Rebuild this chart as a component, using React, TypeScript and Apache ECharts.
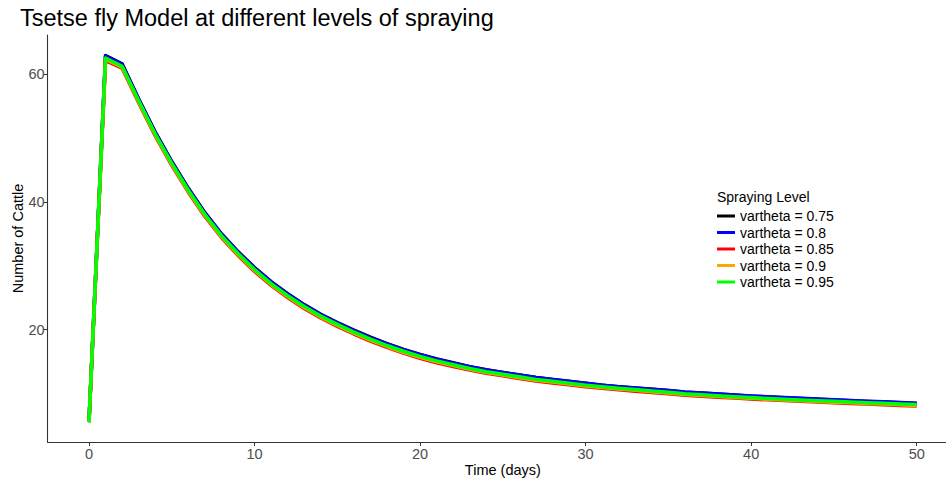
import React, { useEffect, useRef } from "react";
import * as echarts from "echarts";

const times = [0, 1, 2, 3, 4, 5, 6, 7, 8, 9, 10, 11, 12, 13, 14, 15, 16, 17, 18, 19, 20, 21, 22, 23, 24, 25, 26, 27, 28, 29, 30, 31, 32, 33, 34, 35, 36, 37, 38, 39, 40, 41, 42, 43, 44, 45, 46, 47, 48, 49, 50];

const seriesNames = ["vartheta = 0.75", "vartheta = 0.8", "vartheta = 0.85", "vartheta = 0.9", "vartheta = 0.95"];
const seriesColors = ["#000000", "#0000FF", "#FF0000", "#FFA500", "#00FF00"];

const v075 = [5.5, 62.9, 61.6, 56.1, 50.9, 46.3, 42.1, 38.3, 35.0, 32.2, 29.7, 27.5, 25.6, 23.9, 22.4, 21.1, 19.9, 18.8, 17.8, 16.9, 16.1, 15.4, 14.8, 14.2, 13.7, 13.3, 12.9, 12.5, 12.2, 11.9, 11.6, 11.3, 11.05, 10.85, 10.65, 10.45, 10.2, 10.05, 9.9, 9.74, 9.58, 9.45, 9.32, 9.2, 9.08, 8.97, 8.86, 8.75, 8.65, 8.54, 8.42];
const v080 = [5.5, 62.8, 61.5, 56.05, 50.85, 46.25, 42.05, 38.25, 34.95, 32.15, 29.65, 27.45, 25.55, 23.85, 22.35, 21.05, 19.85, 18.75, 17.75, 16.85, 16.05, 15.35, 14.75, 14.17, 13.67, 13.27, 12.87, 12.48, 12.18, 11.88, 11.58, 11.3, 11.06, 10.86, 10.66, 10.46, 10.22, 10.07, 9.92, 9.77, 9.61, 9.48, 9.36, 9.24, 9.12, 9.01, 8.9, 8.79, 8.69, 8.58, 8.46];
const v085 = [5.5, 62.1, 60.9, 55.5, 50.3, 45.7, 41.5, 37.7, 34.4, 31.6, 29.1, 26.9, 25.0, 23.3, 21.8, 20.5, 19.3, 18.2, 17.2, 16.3, 15.5, 14.8, 14.2, 13.65, 13.15, 12.75, 12.35, 11.95, 11.65, 11.35, 11.05, 10.8, 10.56, 10.36, 10.16, 9.96, 9.72, 9.57, 9.42, 9.28, 9.13, 9.0, 8.88, 8.76, 8.65, 8.54, 8.43, 8.33, 8.23, 8.13, 8.03];
const v090 = [5.5, 62.3, 61.05, 55.65, 50.45, 45.85, 41.65, 37.85, 34.55, 31.75, 29.25, 27.05, 25.15, 23.45, 21.95, 20.65, 19.45, 18.35, 17.35, 16.45, 15.65, 14.95, 14.35, 13.77, 13.27, 12.87, 12.47, 12.07, 11.77, 11.47, 11.17, 10.92, 10.68, 10.48, 10.28, 10.08, 9.83, 9.68, 9.53, 9.38, 9.23, 9.1, 8.98, 8.86, 8.75, 8.64, 8.53, 8.43, 8.33, 8.23, 8.13];
const v095 = [5.5, 62.5, 61.2, 55.8, 50.6, 46.0, 41.8, 38.0, 34.7, 31.9, 29.4, 27.2, 25.3, 23.6, 22.1, 20.8, 19.6, 18.5, 17.5, 16.6, 15.8, 15.1, 14.5, 13.9, 13.4, 13.0, 12.6, 12.2, 11.9, 11.6, 11.3, 11.05, 10.8, 10.6, 10.4, 10.2, 9.95, 9.8, 9.65, 9.5, 9.35, 9.22, 9.1, 8.98, 8.87, 8.76, 8.65, 8.55, 8.45, 8.35, 8.25];

const xTicks = [0, 10, 20, 30, 40, 50];
const yTicks = [20, 40, 60];

const allValues = [v075, v080, v085, v090, v095];

const FONT = "'Liberation Sans', Arial, Helvetica, sans-serif";

export default function App() {
  const ref = useRef<HTMLDivElement>(null);
  useEffect(() => {
    document.body.style.margin = "0";
    const chart = echarts.init(ref.current!, null, { renderer: "svg" });
    chart.setOption({
      animation: false,
      backgroundColor: "#ffffff",
      textStyle: { fontFamily: FONT },
      grid: { left: 47.6, top: 35, width: 910.5, height: 407, containLabel: false, outerBoundsMode: "none" },
      xAxis: {
        type: "value",
        min: -2.5,
        max: 52.5,
        name: "Time (days)",
        nameLocation: "middle",
        nameGap: 20,
        nameMoveOverlap: false,
        nameTextStyle: { color: "#000000", fontSize: 14.5, fontFamily: FONT },
        axisLine: { show: true, onZero: false, lineStyle: { color: "#333333", width: 1.1 } },
        axisTick: { show: true, length: 4, customValues: xTicks, lineStyle: { color: "#333333", width: 1 } },
        axisLabel: { customValues: xTicks, color: "#4D4D4D", fontSize: 14.5, margin: 4, fontFamily: FONT },
        splitLine: { show: false },
      },
      yAxis: {
        type: "value",
        min: 2.4,
        max: 66.1,
        name: "Number of Cattle",
        nameLocation: "middle",
        nameGap: 22,
        nameMoveOverlap: false,
        nameRotate: 90,
        nameTextStyle: { color: "#000000", fontSize: 14.5, fontFamily: FONT },
        axisLine: { show: true, onZero: false, lineStyle: { color: "#333333", width: 1.1 } },
        axisTick: { show: true, length: 4, customValues: yTicks, lineStyle: { color: "#333333", width: 1 } },
        axisLabel: { customValues: yTicks, color: "#4D4D4D", fontSize: 14.5, margin: 3, fontFamily: FONT },
        splitLine: { show: false },
      },
      legend: {
        data: seriesNames,
        orient: "vertical",
        left: 717,
        top: 207.75,
        padding: 0,
        itemGap: 0,
        itemWidth: 18,
        itemHeight: 3,
        icon: "rect",
        textStyle: { color: "#000000", fontSize: 14, lineHeight: 16.5, fontFamily: FONT },
      },
      graphic: [
        {
          type: "text",
          left: 20,
          top: 5.5,
          style: { text: "Tsetse fly Model at different levels of spraying", fill: "#000000", fontSize: 23.5, fontFamily: FONT },
        },
        {
          type: "text",
          x: 717,
          y: 197,
          style: { text: "Spraying Level", fill: "#000000", fontSize: 14, fontFamily: FONT, verticalAlign: "middle", align: "left" },
        },
      ],
      series: seriesNames.map((name, si) => ({
        name,
        type: "line",
        data: times.map((t, i) => [t, allValues[si][i]]),
        showSymbol: false,
        symbol: "none",
        color: seriesColors[si],
        lineStyle: { color: seriesColors[si], width: 3.5, join: "round" },
      })),
    });
    return () => chart.dispose();
  }, []);
  return <div ref={ref} style={{ position: "absolute", left: 0, top: 0, width: 946, height: 480 }} />;
}
